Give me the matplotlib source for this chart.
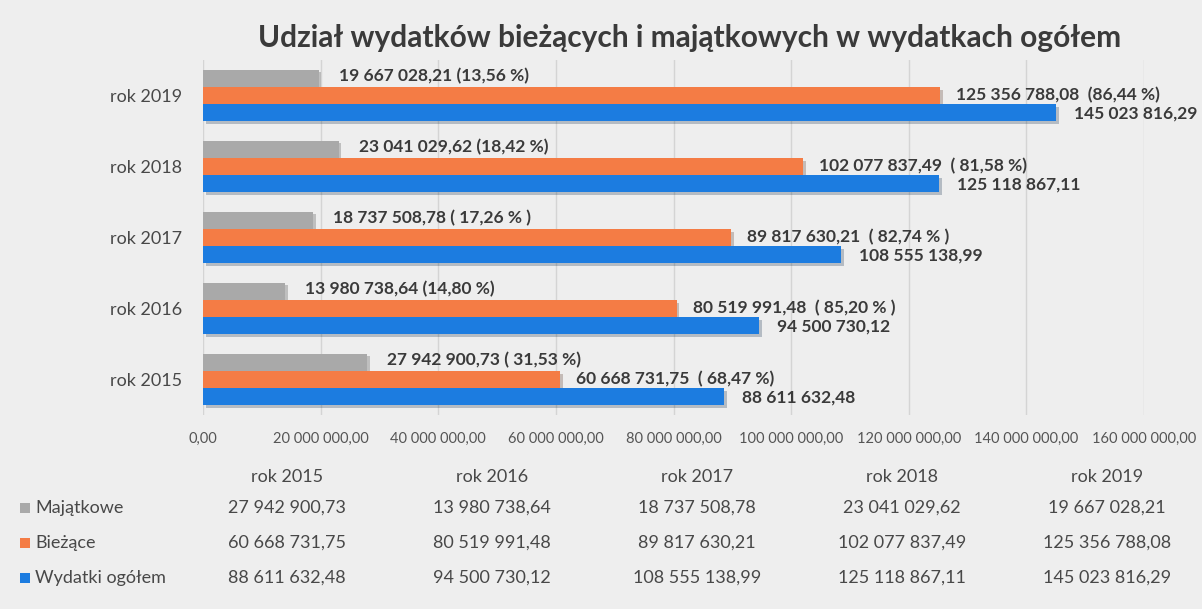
import matplotlib
matplotlib.use("Agg")
import matplotlib.pyplot as plt
import matplotlib.patheffects as pe
from matplotlib.patches import Rectangle
import numpy as np

plt.rcParams['font.family'] = ['Lato', 'DejaVu Sans']

# ---- data ----
years = ["rok 2015", "rok 2016", "rok 2017", "rok 2018", "rok 2019"]
majatkowe = [27942900.73, 13980738.64, 18737508.78, 23041029.62, 19667028.21]
biezace = [60668731.75, 80519991.48, 89817630.21, 102077837.49, 125356788.08]
ogolem = [88611632.48, 94500730.12, 108555138.99, 125118867.11, 145023816.29]

majatkowe_txt = ["27 942 900,73", "13 980 738,64", "18 737 508,78", "23 041 029,62", "19 667 028,21"]
biezace_txt = ["60 668 731,75", "80 519 991,48", "89 817 630,21", "102 077 837,49", "125 356 788,08"]
ogolem_txt = ["88 611 632,48", "94 500 730,12", "108 555 138,99", "125 118 867,11", "145 023 816,29"]
majatkowe_pct = ["( 31,53 %)", "(14,80 %)", "( 17,26 % )", "(18,42 %)", "(13,56 %)"]
biezace_pct = ["( 68,47 %)", "( 85,20 % )", "( 82,74 % )", "( 81,58 %)", "(86,44 %)"]

series_names = ["Majątkowe", "Bieżące", "Wydatki ogółem"]
xticks = [0, 20e6, 40e6, 60e6, 80e6, 100e6, 120e6, 140e6, 160e6]
xtick_labels = ["0,00", "20 000 000,00", "40 000 000,00", "60 000 000,00",
                "80 000 000,00", "100 000 000,00", "120 000 000,00",
                "140 000 000,00", "160 000 000,00"]
title = "Udział wydatków bieżących i majątkowych w wydatkach ogółem"

# ---- style ----
W, H = 1202, 609
bg = "#eeeeee"
c_grey, c_orange, c_blue = "#a9a9a9", "#f47c45", "#1c7ce0"
colors = [c_grey, c_orange, c_blue]
txt_dark = "#3a3a3a"
txt_mid = "#484848"

fig = plt.figure(figsize=(W / 100, H / 100), dpi=100, facecolor=bg)
ax = fig.add_axes([203 / W, 1 - 415 / H, (1144 - 203) / W, (415 - 60) / H])
ax.set_facecolor(bg)

y = np.arange(len(years))
h = 0.245
shadow = [pe.SimplePatchShadow(offset=(2, -2), alpha=0.25), pe.Normal()]
series = [majatkowe, biezace, ogolem]
offsets = [h, 0, -h]
for vals, off, col in zip(series, offsets, colors):
    bars = ax.barh(y + off, vals, height=h * 0.97, color=col, zorder=3)
    for b in bars:
        b.set_path_effects(shadow)

lab_kw = dict(textcoords="offset pixels", ha="left", va="center",
              fontsize=12.5, fontweight="bold", color=txt_dark, zorder=5)
for i in range(len(years)):
    ax.annotate(f"{majatkowe_txt[i]} {majatkowe_pct[i]}", (majatkowe[i], y[i] + h),
                xytext=(20, 2), **lab_kw)
    ax.annotate(f"{biezace_txt[i]}  {biezace_pct[i]}", (biezace[i], y[i]),
                xytext=(16, 0), **lab_kw)
    ax.annotate(ogolem_txt[i], (ogolem[i], y[i] - h),
                xytext=(18, -1), **lab_kw)

ax.set_xlim(0, 160e6)
ax.set_ylim(-0.5, len(years) - 0.5)
ax.set_yticks(y)
ax.set_yticklabels(years, fontsize=13, color=txt_mid)
ax.set_xticks(xticks)
ax.set_xticklabels(xtick_labels, fontsize=10.5, color="#555555")
ax.tick_params(axis="both", length=0)
ax.tick_params(axis="x", pad=12)
ax.tick_params(axis="y", pad=15)
ax.grid(axis="x", color="#d4d4d4", linewidth=1, zorder=0)
for s in ax.spines.values():
    s.set_visible(False)

fig.text(690 / W, 1 - 38 / H, title, ha="center", va="center",
         fontsize=21.5, fontweight="bold", color=txt_dark)

# ---- data table ----
col_x = [287, 492, 697, 902, 1107]
row_y = [477, 508, 543, 578]
for cx, yr in zip(col_x, years):
    fig.text(cx / W, 1 - row_y[0] / H, yr, ha="center", va="center",
             fontsize=13, color=txt_mid)
table_rows = [majatkowe_txt, biezace_txt, ogolem_txt]
for r, (name, col, vals) in enumerate(zip(series_names, colors, table_rows)):
    yy = 1 - row_y[r + 1] / H
    fig.patches.append(Rectangle((20 / W, yy - 5 / H), 10 / W, 10 / H,
                                 transform=fig.transFigure, facecolor=col,
                                 edgecolor="none", figure=fig))
    fig.text(35 / W, yy, name, ha="left", va="center", fontsize=13, color=txt_mid)
    for cx, v in zip(col_x, vals):
        fig.text(cx / W, yy, v, ha="center", va="center", fontsize=13, color=txt_mid)

fig.savefig("out.png", dpi=100, facecolor=bg)
